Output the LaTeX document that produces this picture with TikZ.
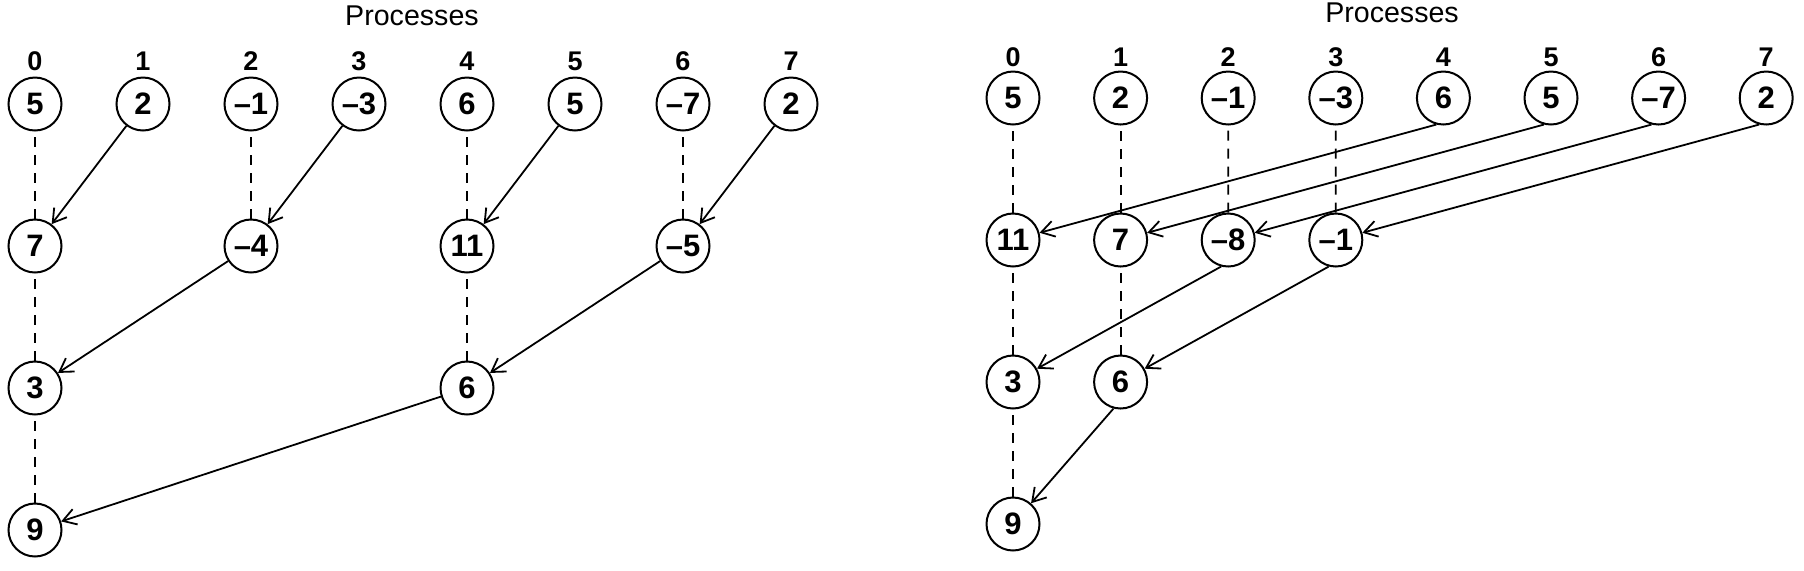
\documentclass[tikz,border=0pt]{standalone}
\usepackage{fontspec}
\setmainfont{Liberation Sans}
\usetikzlibrary{arrows.meta}
\begin{document}
\begin{tikzpicture}[x=0.5pt,y=-0.5pt,
  val/.style={circle, draw, line width=1pt, minimum size=26.5pt, inner sep=0pt, font=\fontsize{15.5}{17}\selectfont\bfseries},
  lab/.style={inner sep=0pt, font=\fontsize{13.5}{15}\selectfont\bfseries},
  ttl/.style={inner sep=0pt, font=\fontsize{14.3}{16}\selectfont},
  msg/.style={line width=0.9pt, -{Straight Barb[length=6.5pt,width=8pt]}},
  wait/.style={line width=0.9pt, dash pattern=on 5pt off 4pt}]
\useasboundingbox (0,0) rectangle (1804,570);

% ---------- left diagram ----------
\node[ttl] (Ltitle) at (412,16) {Processes};
\foreach \i/\v in {0/5,1/2,2/\textendash1,3/\textendash3,4/6,5/5,6/\textendash7,7/2}{
  \node[lab] (Ln\i) at ({35+108*\i},61) {\i};
  \node[val] (La\i) at ({35+108*\i},104) {\v};
}
\node[val] (Lb0) at (35,246) {7};
\node[val] (Lb2) at (251,246) {\textendash4};
\node[val] (Lb4) at (467,246) {11};
\node[val] (Lb6) at (683,246) {\textendash5};
\node[val] (Lc0) at (35,388) {3};
\node[val] (Lc4) at (467,388) {6};
\node[val] (Ld0) at (35,530) {9};

\draw[wait] (Lb0) -- (La0);
\draw[wait] (Lb2) -- (La2);
\draw[wait] (Lb4) -- (La4);
\draw[wait] (Lb6) -- (La6);
\draw[wait] (Lc0) -- (Lb0);
\draw[wait] (Lc4) -- (Lb4);
\draw[wait] (Ld0) -- (Lc0);

\draw[msg] (La1) -- (Lb0);
\draw[msg] (La3) -- (Lb2);
\draw[msg] (La5) -- (Lb4);
\draw[msg] (La7) -- (Lb6);
\draw[msg] (Lb2) -- (Lc0);
\draw[msg] (Lb6) -- (Lc4);
\draw[msg] (Lc4) -- (Ld0);

% ---------- right diagram ----------
\node[ttl] (Rtitle) at (1392,13) {Processes};
\foreach \i/\v in {0/5,1/2,2/\textendash1,3/\textendash3,4/6,5/5,6/\textendash7,7/2}{
  \node[lab] (Rn\i) at ({1013+107.6*\i},57) {\i};
  \node[val] (Ra\i) at ({1013+107.6*\i},98) {\v};
}
\node[val] (Rb0) at (1013,240) {11};
\node[val] (Rb1) at (1120.6,240) {7};
\node[val] (Rb2) at (1228.2,240) {\textendash8};
\node[val] (Rb3) at (1335.8,240) {\textendash1};
\node[val] (Rc0) at (1013,382) {3};
\node[val] (Rc1) at (1120.6,382) {6};
\node[val] (Rd0) at (1013,524) {9};

\draw[wait] (Rb0) -- (Ra0);
\draw[wait] (Rb1) -- (Ra1);
\draw[wait] (Rb2) -- (Ra2);
\draw[wait] (Rb3) -- (Ra3);
\draw[wait] (Rc0) -- (Rb0);
\draw[wait] (Rc1) -- (Rb1);
\draw[wait] (Rd0) -- (Rc0);

\draw[msg] (Ra4.255) -- (Rb0);
\draw[msg] (Ra5.255) -- (Rb1);
\draw[msg] (Ra6.255) -- (Rb2);
\draw[msg] (Ra7.255) -- (Rb3);
\draw[msg] (Rb2.255) -- (Rc0);
\draw[msg] (Rb3.255) -- (Rc1);
\draw[msg] (Rc1.255) -- (Rd0);
\end{tikzpicture}
\end{document}
